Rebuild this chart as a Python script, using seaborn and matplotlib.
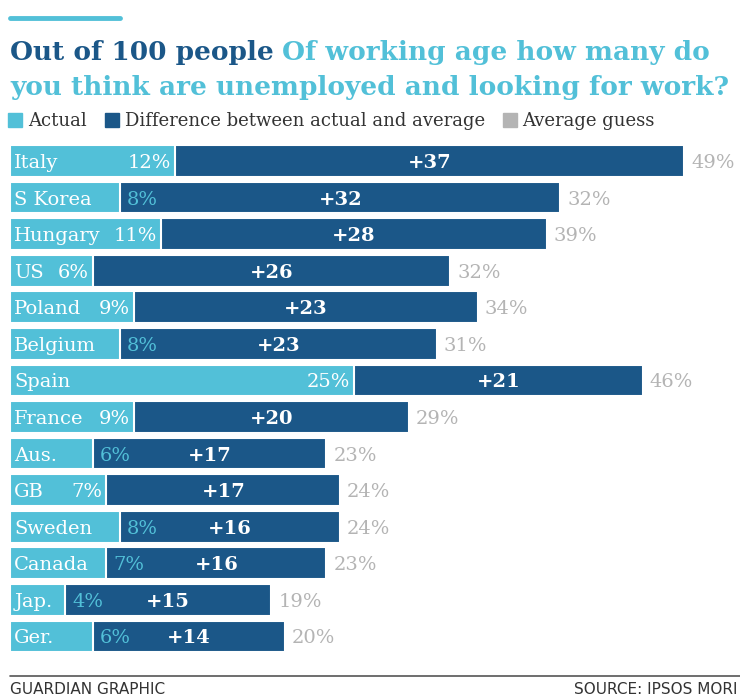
import matplotlib.pyplot as plt
import seaborn as sns
import pandas as pd
from matplotlib.patches import Patch
from matplotlib.lines import Line2D

countries = ['Italy', 'S Korea', 'Hungary', 'US', 'Poland', 'Belgium', 'Spain',
             'France', 'Aus.', 'GB', 'Sweden', 'Canada', 'Jap.', 'Ger.']
actual = [12, 8, 11, 6, 9, 8, 25, 9, 6, 7, 8, 7, 4, 6]
difference = [37, 32, 28, 26, 23, 23, 21, 20, 17, 17, 16, 16, 15, 14]
average_guess = [49, 32, 39, 32, 34, 31, 46, 29, 23, 24, 24, 23, 19, 20]
# where each bar ends in the original graphic (S Korea is drawn out to 40)
bar_end = [49, 40, 39, 32, 34, 31, 46, 29, 23, 24, 24, 23, 19, 20]
# rows whose actual figure sits inside the light bar
actual_inside = ['Italy', 'Hungary', 'US', 'Poland', 'Spain', 'France', 'GB']

LIGHT = '#52c0d8'
DARK = '#1b5788'
GREY = '#b4b4b4'
TEXT = '#333333'

df = pd.DataFrame({'country': countries, 'actual': actual, 'bar_end': bar_end})

sns.set_theme(style='white')
plt.rcParams['font.family'] = ['DejaVu Serif']

fig = plt.figure(figsize=(7.4, 7.0), dpi=100)
fig.patch.set_facecolor('white')
ax = fig.add_axes([10 / 740, 45.3 / 700, 730 / 740, 512 / 700])

sns.barplot(data=df, x='bar_end', y='country', color=DARK, saturation=1,
            width=0.87, edgecolor='white', linewidth=1.5, ax=ax)
sns.barplot(data=df, x='actual', y='country', color=LIGHT, saturation=1,
            width=0.87, edgecolor='white', linewidth=1.5, ax=ax)

ax.set_xlim(0, 730 / 13.76)
ax.set_ylim(13.5, -0.5)
ax.set_xlabel('')
ax.set_ylabel('')
ax.set_xticks([])
ax.set_yticks([])
sns.despine(ax=ax, left=True, bottom=True)

for i, (name, a, d, g, e) in enumerate(zip(countries, actual, difference, average_guess, bar_end)):
    ax.annotate(name, (0, i), xytext=(3, 0), textcoords='offset points',
                ha='left', va='center_baseline', color='white', fontsize=14)
    if name in actual_inside:
        ax.annotate(f'{a}%', (a, i), xytext=(-3, 0), textcoords='offset points',
                    ha='right', va='center_baseline', color='white', fontsize=14)
    else:
        ax.annotate(f'{a}%', (a, i), xytext=(5, 0), textcoords='offset points',
                    ha='left', va='center_baseline', color=LIGHT, fontsize=14)
    ax.annotate(f'+{d}', ((a + e) / 2, i), ha='center', va='center_baseline',
                color='white', fontsize=14, weight='bold')
    ax.annotate(f'{g}%', (e, i), xytext=(5, 0), textcoords='offset points',
                ha='left', va='center_baseline', color=GREY, fontsize=14)

# top accent rule
fig.add_artist(Line2D([10 / 740, 120 / 740], [1 - 18 / 700] * 2, color=LIGHT, lw=3.5))

t1 = fig.text(10 / 740, 1 - 60 / 700, 'Out of 100 people', fontsize=19, weight='bold',
              color=DARK, ha='left', va='baseline')
ax.annotate('Of working age how many do', xy=(1, 0), xycoords=t1, xytext=(6, 0),
            textcoords='offset points', ha='left', va='bottom', fontsize=19,
            weight='bold', color=LIGHT, annotation_clip=False)
fig.text(10 / 740, 1 - 95 / 700, 'you think are unemployed and looking for work?',
         fontsize=19, weight='bold', color=LIGHT, ha='left', va='baseline')

handles = [Patch(color=LIGHT, label='Actual'),
           Patch(color=DARK, label='Difference between actual and average'),
           Patch(color=GREY, label='Average guess')]
leg = fig.legend(handles=handles, loc='center left', bbox_to_anchor=(8 / 740, 1 - 121 / 700),
                 ncol=3, frameon=False, handlelength=0.8, handleheight=0.8,
                 handletextpad=0.3, columnspacing=1.0, fontsize=13,
                 borderaxespad=0, borderpad=0)
for t in leg.get_texts():
    t.set_color(TEXT)

# footer
fig.add_artist(Line2D([10 / 740, 1.0], [1 - 676 / 700] * 2, color='#555555', lw=1.2))
fig.text(10 / 740, 1 - 690 / 700, 'GUARDIAN GRAPHIC', fontsize=11, color=TEXT,
         ha='left', va='center', family=['Liberation Sans Narrow', 'DejaVu Sans'])
fig.text(738 / 740, 1 - 690 / 700, 'SOURCE: IPSOS MORI', fontsize=11, color=TEXT,
         ha='right', va='center', family=['Liberation Sans Narrow', 'DejaVu Sans'])

fig.savefig('out.png', dpi=100, facecolor='white')
